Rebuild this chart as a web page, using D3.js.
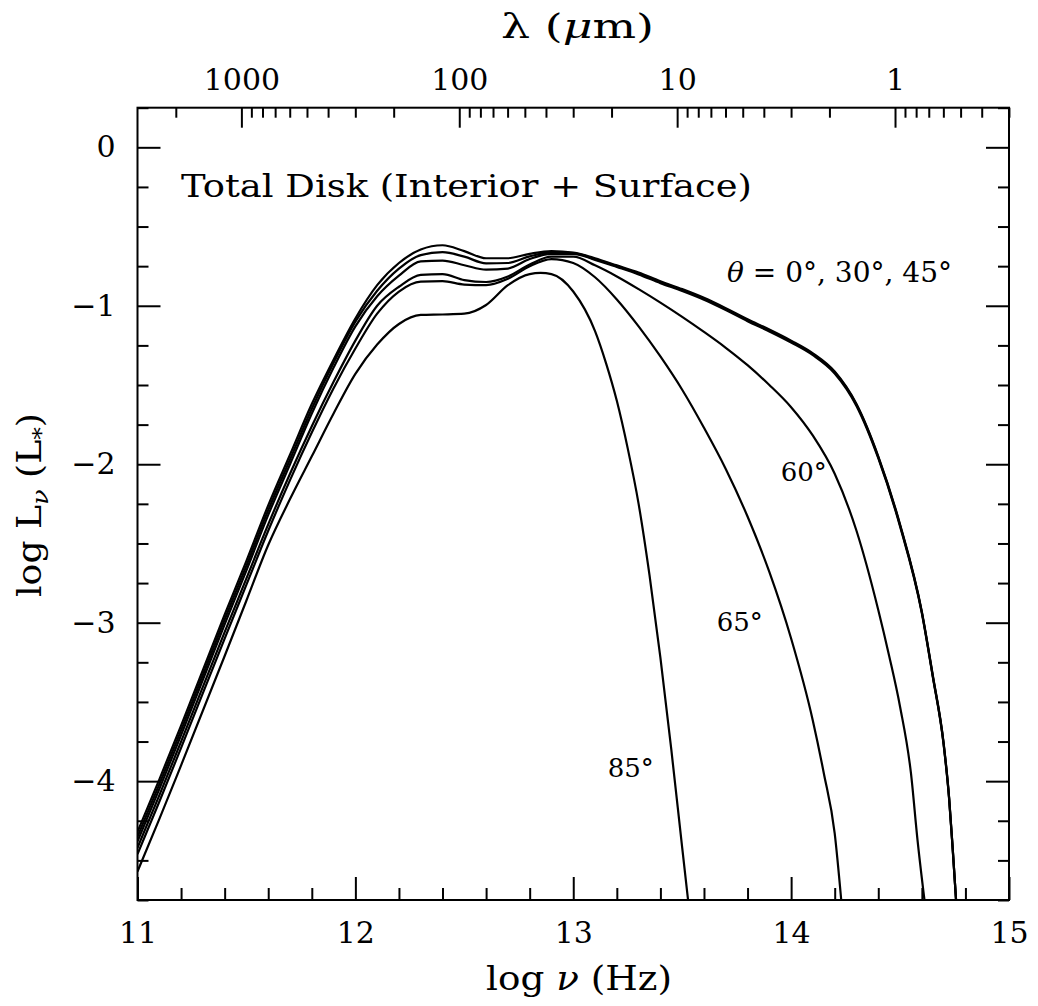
<!DOCTYPE html>
<html>
<head>
<meta charset="utf-8">
<script src="https://cdn.jsdelivr.net/npm/d3@7"></script>
<style>
  html, body { margin: 0; padding: 0; background: #fff; }
  svg { display: block; }
  text { font-family: "DejaVu Serif", "Liberation Serif", serif; fill: #000; }
</style>
</head>
<body>
<svg id="chart" width="1038" height="1006"></svg>
<script>
// Spectral energy distribution of the total disk (interior + surface)
// for several viewing angles: log L_nu (in L_*) versus log nu (Hz).

const xDomain = [11, 15];
const yDomain = [-4.75, 0.25];

const xMajorTicks = [11, 12, 13, 14, 15];
const yMajorTicks = [0, -1, -2, -3, -4];
const lambdaMajorTicks = [1000, 100, 10, 1];
const lambdaTickLabels = ["1000", "100", "10", "1"];

// [log nu, log L_nu] for each inclination
const sed0 = [[11.0,-4.32],[11.1,-3.99],[11.2,-3.65],[11.4,-2.95],[11.5,-2.61],[11.6,-2.26],[11.7,-1.94],[11.8,-1.62],[11.9,-1.34],[12.0,-1.08],[12.1,-0.87],[12.2,-0.73],[12.3,-0.645],[12.4,-0.618],[12.5,-0.655],[12.6,-0.70],[12.7,-0.70],[12.8,-0.672],[12.9,-0.655],[13.0,-0.665],[13.1,-0.70],[13.2,-0.745],[13.3,-0.79],[13.4,-0.845],[13.5,-0.895],[13.6,-0.95],[13.7,-1.015],[13.8,-1.085],[13.9,-1.15],[14.0,-1.22],[14.1,-1.30],[14.2,-1.415],[14.3,-1.62],[14.4,-1.95],[14.5,-2.38],[14.6,-2.93],[14.65,-3.33],[14.7,-3.76],[14.725,-4.10],[14.742,-4.43],[14.757,-4.75]];
const sed30 = [[11.0,-4.35],[11.1,-4.02],[11.2,-3.68],[11.4,-2.98],[11.5,-2.64],[11.6,-2.29],[11.7,-1.97],[11.8,-1.65],[11.9,-1.36],[12.0,-1.10],[12.1,-0.905],[12.2,-0.765],[12.3,-0.68],[12.4,-0.662],[12.5,-0.69],[12.6,-0.732],[12.7,-0.73],[12.8,-0.688],[12.9,-0.663],[13.0,-0.668],[13.1,-0.705],[13.2,-0.75],[13.3,-0.796],[13.4,-0.85],[13.5,-0.90],[13.6,-0.956],[13.7,-1.02],[13.8,-1.09],[13.9,-1.155],[14.0,-1.226],[14.1,-1.305],[14.2,-1.42],[14.3,-1.625],[14.4,-1.955],[14.5,-2.385],[14.6,-2.935],[14.65,-3.335],[14.7,-3.765],[14.725,-4.105],[14.742,-4.435],[14.757,-4.75]];
const sed45 = [[11.0,-4.38],[11.1,-4.05],[11.2,-3.71],[11.4,-3.01],[11.5,-2.67],[11.6,-2.32],[11.7,-2.00],[11.8,-1.68],[11.9,-1.39],[12.0,-1.13],[12.1,-0.94],[12.2,-0.81],[12.3,-0.72],[12.4,-0.715],[12.5,-0.744],[12.6,-0.772],[12.7,-0.765],[12.8,-0.705],[12.9,-0.672],[13.0,-0.672],[13.1,-0.71],[13.2,-0.755],[13.3,-0.802],[13.4,-0.857],[13.5,-0.907],[13.6,-0.962],[13.7,-1.027],[13.8,-1.097],[13.9,-1.162],[14.0,-1.232],[14.1,-1.312],[14.2,-1.427],[14.3,-1.632],[14.4,-1.962],[14.5,-2.392],[14.6,-2.94],[14.65,-3.34],[14.7,-3.77],[14.725,-4.11],[14.742,-4.44],[14.757,-4.75]];
const sed60 = [[11.0,-4.42],[11.1,-4.09],[11.2,-3.75],[11.4,-3.06],[11.5,-2.72],[11.6,-2.38],[11.7,-2.06],[11.8,-1.76],[11.9,-1.48],[12.0,-1.22],[12.1,-1.00],[12.2,-0.88],[12.3,-0.805],[12.4,-0.80],[12.5,-0.838],[12.6,-0.85],[12.7,-0.815],[12.8,-0.74],[12.9,-0.69],[13.0,-0.69],[13.1,-0.745],[13.2,-0.815],[13.3,-0.895],[13.4,-0.98],[13.5,-1.07],[13.6,-1.165],[13.7,-1.265],[13.8,-1.375],[13.9,-1.50],[14.0,-1.64],[14.1,-1.82],[14.2,-2.06],[14.3,-2.42],[14.4,-2.92],[14.45,-3.21],[14.5,-3.53],[14.55,-3.95],[14.58,-4.37],[14.612,-4.75]];
const sed65 = [[11.0,-4.46],[11.1,-4.13],[11.2,-3.79],[11.4,-3.10],[11.5,-2.76],[11.6,-2.42],[11.7,-2.10],[11.8,-1.80],[11.9,-1.52],[12.0,-1.27],[12.1,-1.05],[12.2,-0.91],[12.3,-0.847],[12.4,-0.845],[12.5,-0.866],[12.6,-0.87],[12.7,-0.83],[12.8,-0.75],[12.9,-0.705],[13.0,-0.73],[13.1,-0.82],[13.2,-0.96],[13.3,-1.13],[13.4,-1.32],[13.5,-1.53],[13.6,-1.77],[13.7,-2.03],[13.8,-2.33],[13.9,-2.68],[14.0,-3.10],[14.1,-3.62],[14.15,-3.95],[14.2,-4.33],[14.23,-4.75]];
const sed85 = [[11.0,-4.57],[11.1,-4.24],[11.2,-3.90],[11.4,-3.21],[11.5,-2.86],[11.6,-2.51],[11.7,-2.22],[11.8,-1.95],[11.9,-1.68],[12.0,-1.43],[12.1,-1.245],[12.2,-1.115],[12.3,-1.058],[12.4,-1.055],[12.5,-1.05],[12.6,-0.995],[12.7,-0.87],[12.8,-0.80],[12.85,-0.793],[12.9,-0.80],[13.0,-0.91],[13.1,-1.16],[13.15,-1.36],[13.2,-1.60],[13.25,-1.90],[13.3,-2.25],[13.35,-2.70],[13.4,-3.22],[13.45,-3.80],[13.5,-4.42],[13.527,-4.75]];

const series = [sed0, sed30, sed45, sed60, sed65, sed85];

// in-plot annotations: [text, log nu (centre), log L (baseline)]
const curveLabels = [
  ["60°", 14.058, -2.105],
  ["65°", 13.764, -3.052],
  ["85°", 13.264, -3.974]
];

const W = 1038, H = 1006;
const plot = { left: 137.5, right: 1009, top: 107.7, bottom: 900 };

const svg = d3.select("#chart");
svg.append("rect").attr("width", W).attr("height", H).attr("fill", "#fff");

const x = d3.scaleLinear().domain(xDomain).range([plot.left, plot.right]);
const y = d3.scaleLinear().domain(yDomain).range([plot.bottom, plot.top]);

// wavelength (micron) axis on top: lambda = c / nu
const cMicron = 2.998e14;
const lam = d3.scaleLog()
  .domain([cMicron / Math.pow(10, xDomain[0]), cMicron / Math.pow(10, xDomain[1])])
  .range([plot.left, plot.right]);

const lambdaMinor = [];
[1000, 100, 10, 1, 0.1].forEach(dec => {
  for (let m = 2; m <= 9; m++) {
    const v = dec * m;
    if (v <= lam.domain()[0] && v >= lam.domain()[1]) lambdaMinor.push(v);
  }
});

const xMinor = d3.range(11, 15.0001, 0.2).map(v => +v.toFixed(2)).filter(v => !xMajorTicks.includes(v));
const yMinor = d3.range(-4.75, 0.2501, 0.25).map(v => +v.toFixed(2)).filter(v => !yMajorTicks.includes(v));

const fontSize = 30;
const styleAxis = g => {
  g.select(".domain").remove();
  g.selectAll("line").attr("stroke", "#000").attr("stroke-width", 2);
  g.selectAll("text").attr("font-size", fontSize).attr("font-family", "DejaVu Serif").attr("fill", "#000");
};

// bottom axis
svg.append("g").attr("transform", `translate(0,${plot.bottom})`)
  .call(d3.axisBottom(x).tickValues(xMajorTicks).tickFormat(d3.format("d"))
    .tickSizeInner(-23).tickSizeOuter(0).tickPadding(22))
  .call(styleAxis);
svg.append("g").attr("transform", `translate(0,${plot.bottom})`)
  .call(d3.axisBottom(x).tickValues(xMinor).tickFormat("").tickSizeInner(-12).tickSizeOuter(0))
  .call(styleAxis);

// top axis (wavelength)
svg.append("g").attr("transform", `translate(0,${plot.top})`)
  .call(d3.axisTop(lam).tickValues(lambdaMajorTicks)
    .tickFormat((d, i) => lambdaTickLabels[i])
    .tickSizeInner(-20).tickSizeOuter(0).tickPadding(18))
  .call(styleAxis);
svg.append("g").attr("transform", `translate(0,${plot.top})`)
  .call(d3.axisTop(lam).tickValues(lambdaMinor).tickFormat("").tickSizeInner(-10).tickSizeOuter(0))
  .call(styleAxis);

// left axis
svg.append("g").attr("transform", `translate(${plot.left},0)`)
  .call(d3.axisLeft(y).tickValues(yMajorTicks)
    .tickFormat(d => d === 0 ? "0" : "\u2212" + Math.abs(d))
    .tickSizeInner(-23).tickSizeOuter(0).tickPadding(22))
  .call(styleAxis);
svg.append("g").attr("transform", `translate(${plot.left},0)`)
  .call(d3.axisLeft(y).tickValues(yMinor).tickFormat("").tickSizeInner(-11).tickSizeOuter(0))
  .call(styleAxis);

// right axis (ticks only)
svg.append("g").attr("transform", `translate(${plot.right},0)`)
  .call(d3.axisRight(y).tickValues(yMajorTicks).tickFormat("").tickSizeInner(-23).tickSizeOuter(0))
  .call(styleAxis);
svg.append("g").attr("transform", `translate(${plot.right},0)`)
  .call(d3.axisRight(y).tickValues(yMinor).tickFormat("").tickSizeInner(-11).tickSizeOuter(0))
  .call(styleAxis);

// frame
svg.append("rect")
  .attr("x", plot.left).attr("y", plot.top)
  .attr("width", plot.right - plot.left).attr("height", plot.bottom - plot.top)
  .attr("fill", "none").attr("stroke", "#000").attr("stroke-width", 2);

// curves
svg.append("clipPath").attr("id", "plot-clip")
  .append("rect")
  .attr("x", plot.left).attr("y", plot.top)
  .attr("width", plot.right - plot.left).attr("height", plot.bottom - plot.top);

const line = d3.line()
  .x(d => x(d[0]))
  .y(d => y(d[1]))
  .curve(d3.curveMonotoneX);

svg.append("g").attr("clip-path", "url(#plot-clip)")
  .selectAll("path").data(series).join("path")
  .attr("d", line)
  .attr("fill", "none")
  .attr("stroke", "#000")
  .attr("stroke-width", 2.2)
  .attr("stroke-linejoin", "round");

// title inside the plot
svg.append("text")
  .attr("x", 181).attr("y", 197)
  .attr("font-size", 31)
  .attr("textLength", 571).attr("lengthAdjust", "spacingAndGlyphs")
  .text("Total Disk (Interior + Surface)");

// inclination labels
const incl = svg.append("text")
  .attr("x", 727).attr("y", 282)
  .attr("font-size", 27)
  .attr("textLength", 225).attr("lengthAdjust", "spacingAndGlyphs");
incl.append("tspan").attr("font-style", "italic").text("θ");
incl.append("tspan").text(" = 0°, 30°, 45°");

svg.append("g").selectAll("text").data(curveLabels).join("text")
  .attr("x", d => x(d[1]))
  .attr("y", d => y(d[2]))
  .attr("font-size", 26)
  .attr("text-anchor", "middle")
  .text(d => d[0]);

// axis titles
const xt = svg.append("text")
  .attr("x", 486).attr("y", 990)
  .attr("font-size", 33)
  .attr("textLength", 186).attr("lengthAdjust", "spacingAndGlyphs");
xt.append("tspan").text("log ");
xt.append("tspan").attr("font-style", "italic").text("ν");
xt.append("tspan").text(" (Hz)");

const tt = svg.append("text")
  .attr("x", 501).attr("y", 38)
  .attr("font-size", 33)
  .attr("textLength", 153).attr("lengthAdjust", "spacingAndGlyphs");
tt.append("tspan").text("λ  (");
tt.append("tspan").attr("font-style", "italic").text("μ");
tt.append("tspan").text("m)");

const yt = svg.append("text")
  .attr("transform", "translate(41,597) rotate(-90)")
  .attr("font-size", 33)
  .attr("textLength", 184).attr("lengthAdjust", "spacingAndGlyphs");
yt.append("tspan").text("log L");
yt.append("tspan").attr("font-style", "italic").attr("font-size", 23).attr("dy", 7).text("ν");
yt.append("tspan").attr("dy", -7).text(" (L");
yt.append("tspan").attr("font-size", 23).attr("dy", 8).text("*");
yt.append("tspan").attr("dy", -8).text(")");
</script>
</body>
</html>
